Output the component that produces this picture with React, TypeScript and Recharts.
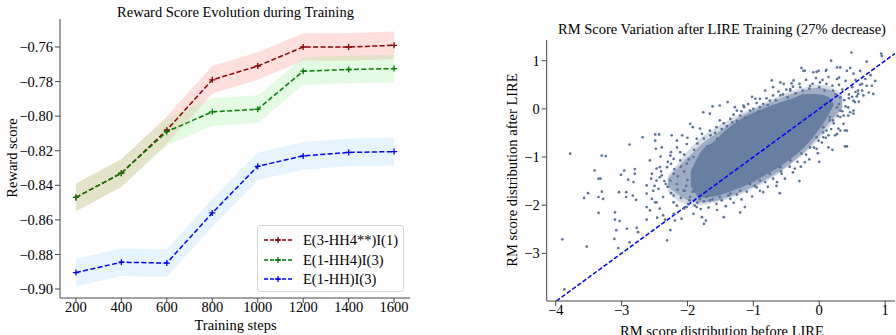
import React from 'react';
import { ComposedChart, Line, Area, Scatter, XAxis, YAxis, ReferenceLine } from 'recharts';

// ---------- Left chart data ----------
const steps = [200, 400, 600, 800, 1000, 1200, 1400, 1600];
const redMean = [-0.847, -0.833, -0.808, -0.779, -0.771, -0.760, -0.760, -0.759];
const redLow = [-0.855, -0.841, -0.816, -0.787, -0.779, -0.768, -0.768, -0.767];
const redHigh = [-0.839, -0.825, -0.800, -0.771, -0.763, -0.752, -0.752, -0.751];
const greenMean = [-0.847, -0.833, -0.809, -0.7975, -0.796, -0.774, -0.773, -0.7725];
const greenLow = [-0.855, -0.841, -0.817, -0.8055, -0.804, -0.782, -0.781, -0.7805];
const greenHigh = [-0.839, -0.825, -0.801, -0.7895, -0.788, -0.766, -0.765, -0.7645];
const blueMean = [-0.8905, -0.8845, -0.885, -0.856, -0.829, -0.823, -0.821, -0.8205];
const blueLow = [-0.8985, -0.8925, -0.893, -0.864, -0.837, -0.831, -0.829, -0.8285];
const blueHigh = [-0.8825, -0.8765, -0.877, -0.848, -0.821, -0.815, -0.813, -0.8125];
const leftXTicks = [200, 400, 600, 800, 1000, 1200, 1400, 1600];
const leftYTicks = [-0.9, -0.88, -0.86, -0.84, -0.82, -0.8, -0.78, -0.76];
const seriesNames = ['E(3-HH4**)I(1)', 'E(1-HH4)I(3)', 'E(1-HH)I(3)'];

// ---------- Right chart data ----------
// density envelope of the point cloud (outer fringe, middle, dense core)
const blobX = [-2.3, -2.1, -1.95, -1.8, -1.6, -1.4, -1.2, -1.0, -0.8, -0.6, -0.4, -0.2, 0.0, 0.15, 0.22, 0.35];
const outerLow = [-1.7, -1.95, -2.0, -2.0, -1.95, -1.88, -1.78, -1.66, -1.5, -1.33, -1.12, -0.9, -0.62, -0.38, -0.25, 0.0];
const outerHigh = [-1.4, -1.05, -0.8, -0.6, -0.42, -0.25, -0.1, 0.02, 0.15, 0.27, 0.38, 0.45, 0.5, 0.47, 0.42, 0.3];
const haloLow = [-1.6, -1.82, -1.92, -1.95, -1.92, -1.84, -1.74, -1.62, -1.46, -1.3, -1.1, -0.86, -0.56, -0.3, -0.18, 0.02];
const haloHigh = [-1.45, -1.15, -0.95, -0.75, -0.55, -0.35, -0.16, -0.02, 0.1, 0.22, 0.32, 0.4, 0.44, 0.4, 0.36, 0.25];
const coreLow = [null, null, -1.6, -1.84, -1.82, -1.74, -1.64, -1.52, -1.36, -1.2, -1.0, -0.76, -0.42, -0.1, 0.08, null];
const coreHigh = [null, null, -1.3, -0.9, -0.68, -0.42, -0.22, -0.08, 0.03, 0.13, 0.22, 0.31, 0.3, 0.24, 0.1, null];
const scatterPairs: number[][] = [
  [-3.78, -0.93], [-3.9, -2.71], [-3.53, -2.86], [-3.87, -3.75], [-3.3, -0.97], [-3.24, -0.98], [-3.41, -1.28],
  [-3.35, -1.45], [-3.32, -1.45], [-3.51, -1.75], [-3.57, -1.85], [-3.3, -1.72], [-3.35, -1.83], [-3.28, -1.87],
  [-3.35, -2.16], [-2.88, -0.74], [-3.01, -1.37], [-2.96, -1.28], [-2.9, -1.47], [-3.04, -1.73], [-2.93, -1.73],
  [-2.93, -1.83], [-3.1, -2.15], [-3.1, -2.3], [-3.03, -2.33], [-3.08, -2.52], [-3.11, -2.7], [-3.05, -2.89],
  [-2.88, -2.77], [-2.77, -2.47], [-2.75, -2.56], [-2.92, -2.49], [-2.82, -1.52], [-2.8, -1.35], [-2.8, -1.25],
  [-2.83, -1.8], [-2.78, -1.89], [-2.68, -0.59], [-2.57, -1.07], [-2.54, -1.35], [-2.62, -1.59], [-2.62, -1.76],
  [-2.57, -2.11], [-2.62, -2.3], [-2.49, -0.53], [-2.43, -0.53], [-2.49, -0.66], [-2.48, -0.83], [-2.39, -0.8],
  [-2.41, -0.99], [-2.42, -1.21], [-2.39, -1.38], [-2.47, -1.49], [-2.44, -1.66], [-2.54, -1.87], [-2.47, -1.94],
  [-2.42, -2.07], [-2.46, -2.26], [-2.37, -2.21], [-2.34, -2.3], [-2.26, -2.52], [-2.31, -2.73], [-2.33, -1.56],
  [-2.25, -1.14], [-2.24, -0.55], [-2.26, -0.97], [-2.16, -0.66], [-2.11, -1.07], [-2.21, -1.8], [-2.16, -2.01],
  [-2.21, -2.18], [-2.19, -2.32], [-2.09, -2.28], [-2.04, -1.7], [-1.99, -1.97], [-2.05, -2.07], [-1.91, -2.18],
  [-1.86, -2.04], [-1.78, -2.25], [-1.75, -2.39], [-1.72, -2.32], [-2.08, -0.55], [-1.96, -0.31], [-1.92, -0.38],
  [-1.76, -0.07], [-1.62, 0.05], [-1.39, 0.14], [-1.25, -0.035], [-1.14, 0.035], [-1.02, 0.25], [-0.82, 0.38],
  [-0.72, 0.59], [-0.59, 0.55], [-0.44, 0.41], [-0.27, 0.85], [-0.22, 0.79], [-0.04, 0.77], [0.1, 0.79],
  [0.18, 1.0], [0.27, 0.62], [0.42, 0.79], [0.49, 1.17], [0.72, 0.98], [0.94, 1.15], [0.95, 1.1], [0.75, 0.34],
  [0.82, 0.31], [0.67, 0.28], [0.52, -0.035], [0.44, -0.14], [0.39, -0.45], [0.39, -0.78], [0.27, -0.52],
  [0.21, -0.24], [0.32, 0.86], [0.47, 0.85], [-0.09, 0.76], [-0.01, 0.79], [0.11, 0.81], [-0.24, 0.79],
  [0.52, 0.73], [0.65, 0.52], [0.72, 0.48], [0.8, 0.48], [0.59, 0.31], [0.52, 0.17], [0.44, 0.03], [0.47, -0.07],
  [0.52, -0.1], [0.32, -0.17], [0.37, -0.31], [0.32, -0.45], [0.11, -0.45], [0.24, -0.55], [0.06, -0.59],
  [-0.01, -0.66], [0.42, -0.78], [0.14, -0.8], [-0.04, -0.83], [-0.42, 0.53], [-0.9, 0.21], [-1.15, 0.07],
  [0.16, -0.24], [0.54, 0.14], [0.59, 0.38], [0.65, 0.38], [0.57, 0.26], [0.32, -0.035], [0.37, -0.14],
  [0.29, -0.41], [0.06, -0.49], [0.14, -0.55], [-1.66, -0.1], [-1.51, 0.07], [-1.28, 0.035], [-0.97, 0.21],
  [-0.7, 0.45], [-0.54, 0.52], [-0.39, 0.59], [0.27, 0.86], [0.62, 0.79], [0.42, -0.45], [-0.22, -1.11],
  [-0.37, -1.24], [-0.57, -1.35], [-0.64, -1.52], [-0.85, -1.73], [-0.95, -1.63], [-1.13, -2.04], [-1.35, -1.87],
  [-1.56, -1.97], [-1.71, -1.83], [-1.89, -2.01], [-2.01, -2.04], [-2.21, -1.94], [-2.37, -1.83], [-2.49, -1.94],
  [-2.62, -2.04], [-2.52, -1.7], [-2.42, -1.42], [-2.47, -1.24], [-2.31, -1.21], [-2.21, -1.04], [-2.11, -0.9],
  [-2.16, -0.8], [-2.01, -0.73], [-1.86, -0.62], [-1.78, -0.52], [-1.81, -0.41], [-1.66, -0.45], [-1.56, -0.38],
  [-1.51, -0.24], [-1.35, -0.21], [-1.2, -0.14], [-1.05, -0.035], [-0.9, 0.035], [-0.75, 0.17], [-0.59, 0.28],
  [-0.44, 0.38], [-0.29, 0.45], [-0.14, 0.48], [0.01, 0.55], [0.11, 0.52], [0.21, 0.38], [0.32, 0.24],
  [0.27, 0.03], [0.16, -0.17], [0.06, -0.38], [-0.04, -0.59], [-0.14, -0.8], [-0.27, -0.93], [-0.44, -1.07],
  [-0.59, -1.21], [-0.75, -1.35], [-0.9, -1.49], [-1.05, -1.56], [-1.2, -1.7], [-1.35, -1.76], [-1.51, -1.83],
  [-1.66, -1.9], [-1.81, -1.87], [-1.96, -1.83], [-2.06, -1.7], [-2.16, -1.56], [-2.26, -1.49], [-2.21, -1.35],
  [-2.01, -1.14], [-1.91, -1.0],
  // mid-density zone, upper side
  [-2.05, -0.95], [-1.98, -1.05], [-1.9, -0.85], [-1.85, -0.72], [-1.75, -0.62], [-1.7, -0.78], [-1.65, -0.55],
  [-1.58, -0.5], [-1.55, -0.62], [-1.48, -0.42], [-1.45, -0.3], [-1.4, -0.36], [-1.32, -0.28], [-1.3, -0.12],
  [-1.25, -0.25], [-1.18, -0.05], [-1.12, -0.18], [-1.08, 0.1], [-1.0, 0.0], [-0.95, 0.12], [-0.92, -0.06],
  [-0.85, 0.1], [-0.8, 0.22], [-0.78, 0.08], [-0.7, 0.28], [-0.66, 0.18], [-0.62, 0.36], [-0.55, 0.3], [-0.5, 0.4],
  [-0.48, 0.24], [-0.4, 0.46], [-0.36, 0.32], [-0.3, 0.52], [-0.25, 0.38], [-0.2, 0.6], [-0.15, 0.42], [-0.1, 0.52],
  [-0.05, 0.64], [0.0, 0.45], [0.05, 0.6], [0.08, 0.38], [0.14, 0.66], [0.2, 0.48], [0.25, 0.3], [0.3, 0.5],
  [0.35, 0.4], [0.4, 0.58], [0.45, 0.22], [0.5, 0.45], [0.55, 0.6], [0.6, 0.15], [0.7, 0.62], [0.78, 0.7], [0.85, 0.58],
  // mid-density zone, lower side
  [-2.3, -1.62], [-2.25, -1.75], [-2.15, -1.68], [-2.1, -1.85], [-2.02, -1.6], [-1.97, -1.9], [-1.92, -1.72],
  [-1.85, -1.95], [-1.8, -2.08], [-1.75, -1.92], [-1.68, -2.05], [-1.62, -1.88], [-1.55, -2.1], [-1.48, -1.9],
  [-1.42, -2.02], [-1.38, -1.8], [-1.3, -1.95], [-1.25, -1.78], [-1.18, -1.88], [-1.1, -1.72], [-1.02, -1.82],
  [-0.98, -1.6], [-0.9, -1.7], [-0.82, -1.52], [-0.78, -1.62], [-0.7, -1.45], [-0.65, -1.6], [-0.58, -1.3],
  [-0.52, -1.45], [-0.45, -1.2], [-0.4, -1.32], [-0.33, -1.1], [-0.28, -1.2], [-0.2, -0.95], [-0.15, -1.05],
  [-0.08, -0.8], [-0.02, -0.92], [0.04, -0.7], [0.1, -0.6], [0.18, -0.42], [0.22, -0.3], [0.28, -0.15],
  [0.35, -0.05], [0.3, 0.1], [0.4, 0.05], [0.45, 0.3], [-0.6, -1.75], [-0.3, -1.5], [0.0, -1.1], [0.2, -0.85],
  [-1.45, -2.25], [-1.2, -2.15],
  // left and right tips
  [-2.55, -1.45], [-2.5, -1.6], [-2.4, -1.3], [-2.35, -1.5], [-2.3, -1.1], [-2.2, -1.25], [-2.15, -1.4],
  [-2.1, -1.2], [-2.05, -1.3], [-2.0, -1.48], [-2.25, -0.9], [-2.0, -0.6],
  [0.3, 0.65], [0.55, 0.35], [0.62, 0.5], [0.5, 0.25], [0.38, 0.18],
];
const diagStart = -3.99;
const diagEnd = 1.15;
const rightXTicks = [-4, -3, -2, -1, 0, 1];
const rightYTicks = [-3, -2, -1, 0, 1];

// ---------- derived tables ----------
const leftData = steps.map((s, i) => ({
  step: s,
  red: redMean[i], redBand: [redLow[i], redHigh[i]],
  green: greenMean[i], greenBand: [greenLow[i], greenHigh[i]],
  blue: blueMean[i], blueBand: [blueLow[i], blueHigh[i]],
}));
const blobData = blobX.map((x, i) => ({
  x,
  outer: [outerLow[i], outerHigh[i]],
  halo: [haloLow[i], haloHigh[i]],
  core: coreLow[i] === null ? null : [coreLow[i], coreHigh[i]],
}));
const scatterData = scatterPairs.map(([x, y]) => ({ x, y }));

const FONT = '"Liberation Serif", "Times New Roman", serif';
const FS = 14.5;
const RED = '#8b0000';
const GREEN = '#008000';
const BLUE = '#0000ff';
const DOT = '#5b7398';
const AXIS = '#444';
const minus = (s: string) => s.replace('-', '\u2212');

const Plus = ({ cx, cy, color }: { cx: number; cy: number; color: string }) => (
  <path d={`M${cx - 3},${cy}H${cx + 3}M${cx},${cy - 3}V${cy + 3}`} stroke={color} strokeWidth={1.3} fill="none" />
);

const plusDot = (color: string) => (p: any) => (
  <Plus key={`d-${p.index}`} cx={p.cx} cy={p.cy} color={color} />
);

const tickStyle = { fontFamily: FONT, fontSize: FS, fill: '#000' };

const Label = ({ x, y, text, rotate = false }: { x: number; y: number; text: string; rotate?: boolean }) => (
  <div
    style={{
      position: 'absolute', left: x, top: y, whiteSpace: 'nowrap', fontSize: FS, lineHeight: 1,
      transform: `translate(-50%, -50%)${rotate ? ' rotate(-90deg)' : ''}`, color: '#000',
    }}
  >
    {text}
  </div>
);

const LegendBox = () => {
  const colors = [RED, GREEN, BLUE];
  const rows = [13.5, 33.5, 53];
  return (
    <div
      style={{
        position: 'absolute', left: 257, top: 225, width: 147, height: 67, border: '1px solid #d5d5d5',
        borderRadius: 3, background: 'rgba(255,255,255,0.85)', boxSizing: 'border-box',
      }}
    >
      {seriesNames.map((n, i) => (
        <React.Fragment key={n}>
          <svg style={{ position: 'absolute', left: 5, top: rows[i] - 6 }} width={30} height={12}>
            <line x1={1} y1={6} x2={29} y2={6} stroke={colors[i]} strokeWidth={1.5} strokeDasharray="4 2" />
            <path d="M12,6H18M15,3V9" stroke={colors[i]} strokeWidth={1.3} />
          </svg>
          <div style={{ position: 'absolute', left: 45, top: rows[i], transform: 'translateY(-50%)', fontSize: FS, lineHeight: 1, whiteSpace: 'nowrap' }}>
            {n}
          </div>
        </React.Fragment>
      ))}
    </div>
  );
};

export default function App() {
  return (
    <div style={{ position: 'absolute', left: 0, top: 0, width: 896, height: 335, overflow: 'hidden', fontFamily: FONT, background: '#fff' }}>
      {/* Left chart */}
      <div style={{ position: 'absolute', left: 0, top: 0 }}>
        <ComposedChart width={420} height={335} data={leftData} margin={{ top: 19, right: 10, bottom: 7, left: 10 }}>
          <XAxis
            dataKey="step" type="number" domain={[130, 1670]} ticks={leftXTicks} allowDataOverflow
            height={30} tick={tickStyle} tickSize={5} tickMargin={-1} stroke={AXIS} tickLine={{ stroke: AXIS }} interval={0}
          />
          <YAxis
            type="number" domain={[-0.9052, -0.7438]} ticks={leftYTicks} allowDataOverflow width={50}
            tick={tickStyle} tickSize={5} stroke={AXIS} tickLine={{ stroke: AXIS }} interval={0}
            tickFormatter={(v: number) => minus(v.toFixed(2))}
          />
          <Area dataKey="redBand" type="linear" stroke="none" fill="#fa8072" fillOpacity={0.25} isAnimationActive={false} activeDot={false} />
          <Area dataKey="greenBand" type="linear" stroke="none" fill="#90ee90" fillOpacity={0.25} isAnimationActive={false} activeDot={false} />
          <Area dataKey="blueBand" type="linear" stroke="none" fill="#87cefa" fillOpacity={0.22} isAnimationActive={false} activeDot={false} />
          <Line dataKey="red" type="linear" stroke={RED} strokeWidth={1.5} strokeDasharray="5 2.4" dot={plusDot(RED)} activeDot={false} isAnimationActive={false} />
          <Line dataKey="green" type="linear" stroke={GREEN} strokeWidth={1.5} strokeDasharray="5 2.4" dot={plusDot(GREEN)} activeDot={false} isAnimationActive={false} />
          <Line dataKey="blue" type="linear" stroke={BLUE} strokeWidth={1.5} strokeDasharray="5 2.4" dot={plusDot(BLUE)} activeDot={false} isAnimationActive={false} />
        </ComposedChart>
      </div>
      <Label x={235.5} y={12} text="Reward Score Evolution during Training" />
      <Label x={235.5} y={325} text="Training steps" />
      <Label x={12} y={158} text="Reward score" rotate />
      <LegendBox />

      {/* Right chart */}
      <div style={{ position: 'absolute', left: 470, top: 0 }}>
        <ComposedChart width={426} height={335} data={blobData} margin={{ top: 40, right: 1, bottom: 4, left: 26.7 }}>
          <XAxis
            dataKey="x" type="number" domain={[-4.137, 1.15]} ticks={rightXTicks} allowDataOverflow
            height={30} tick={tickStyle} tickSize={5} tickMargin={-1} stroke={AXIS} tickLine={{ stroke: AXIS }} interval={0}
            tickFormatter={(v: number) => minus(String(v))}
          />
          <YAxis
            dataKey="y" type="number" domain={[-3.99, 1.43]} ticks={rightYTicks} allowDataOverflow width={50}
            tick={tickStyle} tickSize={5} stroke={AXIS} tickLine={{ stroke: AXIS }} interval={0}
            tickFormatter={(v: number) => minus(String(v))}
          />
          <Area dataKey="outer" type="monotone" stroke="none" fill={DOT} fillOpacity={0.25} isAnimationActive={false} activeDot={false} />
          <Area dataKey="halo" type="monotone" stroke="none" fill={DOT} fillOpacity={0.45} isAnimationActive={false} activeDot={false} />
          <Area dataKey="core" type="monotone" stroke="none" fill={DOT} fillOpacity={0.8} isAnimationActive={false} activeDot={false} />
          <Scatter
            data={scatterData} dataKey="y" fill={DOT} isAnimationActive={false}
            shape={(p: any) => <circle cx={p.cx} cy={p.cy} r={1.35} fill={DOT} />}
          />
          <ReferenceLine
            segment={[{ x: diagStart, y: diagStart }, { x: diagEnd, y: diagEnd }]}
            stroke={BLUE} strokeWidth={1.5} strokeDasharray="4.5 2" ifOverflow="hidden"
          />
        </ComposedChart>
      </div>
      <Label x={722} y={331} text="RM score distribution before LIRE" />
      <Label x={722} y={29} text="RM Score Variation after LIRE Training (27% decrease)" />
      <Label x={512} y={170} text="RM score distribution after LIRE" rotate />
    </div>
  );
}
